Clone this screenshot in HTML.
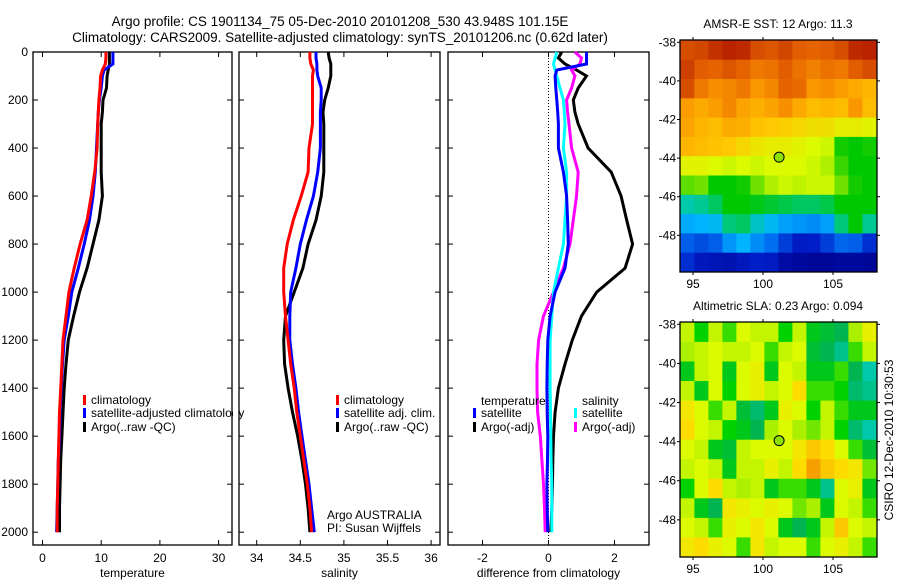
<!DOCTYPE html>
<html><head><meta charset="utf-8"><style>
body{margin:0;background:#fff}
svg{display:block;font-family:"Liberation Sans",sans-serif}
</style></head><body>
<svg id="fig" width="900" height="580" viewBox="0 0 900 580">
<rect width="900" height="580" fill="#fff"/>
<text x="340" y="26" font-size="13.5" text-anchor="middle">Argo profile: CS 1901134_75 05-Dec-2010 20101208_530 43.948S 101.15E</text>
<text x="340" y="42" font-size="13.5" text-anchor="middle">Climatology: CARS2009. Satellite-adjusted climatology: synTS_20101206.nc (0.62d later)</text>
<g id="g"></g>
</svg>
<script>
const depths=[0,25,50,75,100,150,200,250,300,400,500,600,700,800,900,1000,1100,1200,1300,1400,1500,1600,1700,1800,1900,2000];
const tempClim=[10.8,10.8,10.7,10.2,9.9,9.8,9.6,9.5,9.4,9.3,8.9,8.3,7.6,6.4,5.4,4.5,4.0,3.5,3.3,3.1,2.9,2.8,2.7,2.6,2.5,2.5];
const tempSat=[12.0,12.0,12.0,10.5,10.2,10.0,9.7,9.5,9.4,9.2,9.0,8.6,8.0,7.1,6.1,5.0,4.4,3.7,3.4,3.2,3.0,2.9,2.7,2.6,2.5,2.4];
const tempArgo=[11.4,11.4,11.4,11.2,11.0,10.9,10.3,10.2,10.0,10.0,10.0,10.2,9.6,8.6,7.6,6.3,5.3,4.4,4.0,3.7,3.5,3.3,3.1,3.0,2.9,2.9];
const salClim=[34.61,34.61,34.62,34.65,34.64,34.64,34.64,34.64,34.64,34.60,34.59,34.51,34.42,34.35,34.31,34.31,34.33,34.36,34.39,34.43,34.46,34.50,34.54,34.58,34.61,34.63];
const salSat=[34.68,34.68,34.69,34.69,34.70,34.74,34.74,34.73,34.73,34.73,34.70,34.65,34.57,34.50,34.45,34.39,34.38,34.38,34.41,34.45,34.48,34.52,34.56,34.60,34.63,34.66];
const salArgo=[34.82,34.83,34.85,34.85,34.85,34.82,34.78,34.76,34.77,34.77,34.77,34.74,34.68,34.59,34.53,34.43,34.33,34.31,34.32,34.36,34.41,34.47,34.52,34.56,34.59,34.61];
const dTempSat=[1.15,1.15,1.15,0.25,0.2,0.22,0.25,0.28,0.3,0.3,0.45,0.55,0.58,0.6,0.5,0.2,0.05,-0.02,-0.04,-0.05,-0.04,-0.02,-0.03,-0.05,-0.04,-0.02];
const dSalSat=[0.25,0.2,0.15,0.2,0.25,0.35,0.45,0.48,0.5,0.45,0.55,0.55,0.5,0.45,0.3,0.15,0.1,0.05,0.05,0.05,0.06,0.07,0.08,0.1,0.1,0.1];
const dTempArgo=[0.4,0.3,0.5,0.85,1.15,0.9,0.75,0.8,0.9,1.2,1.9,2.2,2.37,2.55,2.32,1.46,1.0,0.72,0.5,0.3,0.2,0.15,0.13,0.12,0.1,0.07];
const dSalArgo=[0.8,1.0,0.95,0.7,0.8,0.7,0.55,0.58,0.62,0.7,0.9,0.85,0.75,0.65,0.45,0.15,-0.15,-0.3,-0.35,-0.35,-0.33,-0.25,-0.2,-0.15,-0.12,-0.1];
const depthTicks=[0,200,400,600,800,1000,1200,1400,1600,1800,2000];
const tempTicks=[0,10,20,30];
const salTicks=[34,34.5,35,35.5,36];
const diffTicks=[-2,0,2];
const lonTicks=[95,100,105];
const latTicks=[-38,-40,-42,-44,-46,-48];
const sst=[
[13.8,13.9,14.2,14.4,14.3,13.8,13.7,13.9,13.6,13.5,13.6,13.8,14.3,14.4],
[14.0,13.6,13.5,13.7,13.5,13.2,13.3,13.6,13.3,13.1,13.3,13.2,13.6,13.8],
[13.8,13.2,12.9,13.0,13.2,12.8,13.0,13.5,13.4,12.8,12.9,12.7,12.5,12.3],
[12.7,12.5,12.7,13.0,12.6,12.4,12.6,12.9,12.5,12.2,12.3,12.2,12.8,12.2],
[12.6,12.3,12.2,12.5,12.4,12.1,12.0,11.9,11.8,11.7,11.7,11.5,11.5,11.4],
[12.3,12.2,12.1,12.0,11.8,11.6,11.5,11.5,11.4,11.3,11.2,10.1,10.0,10.1],
[11.4,11.4,11.3,11.2,11.3,11.2,11.3,11.3,11.3,11.2,11.0,10.3,10.0,10.0],
[10.5,10.6,10.0,10.0,10.1,10.6,11.0,11.2,11.1,11.2,11.2,10.6,10.1,10.0],
[9.3,9.4,9.6,10.0,10.0,9.9,9.8,9.7,9.6,9.6,9.7,10.0,10.0,10.0],
[8.6,8.7,8.8,9.5,9.6,9.1,8.8,8.5,8.4,8.3,8.5,9.5,10.0,9.4],
[7.8,7.6,7.8,8.4,8.7,8.3,8.0,7.4,6.9,7.0,7.4,7.9,7.8,7.2],
[7.2,6.8,6.7,6.6,6.8,7.0,6.9,6.4,6.3,6.2,6.2,6.3,6.3,6.2]];
const sla=[
[0.05,-0.15,0.05,-0.1,0.1,0.05,0.05,-0.15,0.05,-0.2,-0.25,-0.3,0,0.15],
[0,0.05,0.1,0.05,0.05,0.1,-0.1,0.05,0.1,-0.25,-0.3,-0.4,-0.1,0.05],
[-0.2,0.05,0.1,-0.2,0.1,0.15,-0.2,0.1,0.05,-0.2,-0.2,-0.1,-0.3,-0.45],
[0.05,-0.2,0.1,-0.15,0.1,0.15,0.05,0.1,0.25,-0.1,-0.1,-0.15,-0.35,-0.4],
[0.2,0.1,-0.1,0.05,-0.25,-0.35,-0.2,0.15,0.1,-0.15,0.05,-0.1,-0.2,-0.2],
[0.25,0.1,0.05,-0.15,-0.2,-0.3,0,0.1,0,-0.05,0.05,-0.15,-0.35,-0.45],
[0.1,0.05,-0.2,-0.25,0.05,0.1,0.1,0.1,0.2,0.3,0.25,0.1,-0.1,-0.25],
[0.05,0.1,0.05,-0.2,0.05,0.05,0.15,0.05,0.25,0.4,0.3,0.25,0.2,-0.05],
[-0.15,0.1,0.25,0.05,0,0.05,-0.2,-0.1,-0.1,-0.2,-0.4,0.1,0.15,-0.2],
[0.05,-0.2,-0.3,0.2,0.15,0.1,0.15,0.1,-0.05,0,-0.2,0.1,0.05,-0.1],
[0.1,0.05,-0.1,0.15,0.1,0.2,0.1,-0.2,-0.3,-0.2,0.05,0.3,0.1,0.05],
[0.2,0.25,0.15,0.1,-0.1,0.2,0.05,0.1,0.1,-0.1,0.1,0.15,0.05,-0.1]];
const floatLon=101.15, floatLat=-43.95;

const NS='http://www.w3.org/2000/svg';
const G=document.getElementById('g');
function mk(tag,attrs,parent){const e=document.createElementNS(NS,tag);for(const k in attrs)e.setAttribute(k,attrs[k]);(parent||G).appendChild(e);return e;}
function txt(s,x,y,attrs,parent){const e=mk('text',Object.assign({x:x,y:y,'font-size':12},attrs||{}),parent);e.textContent=s;return e;}
const yD=d=>52+d*0.2401;
const PB=545;

function panel(name,x0,x1,xs,xt,xtLabels,xlabel){
  const g=mk('g',{});
  
  
  const fr=mk('rect',{x:x0,y:52,width:x1-x0,height:PB-52,fill:'none',stroke:'#000','stroke-width':1.3},g);
  
  
  depthTicks.forEach(d=>{
    mk('line',{x1:x0,x2:x0+5,y1:yD(d),y2:yD(d),stroke:'#000'},g);
    mk('line',{x1:x1,x2:x1-5,y1:yD(d),y2:yD(d),stroke:'#000'},g);
  });
  xt.forEach((v,i)=>{
    const X=xs(v);
    mk('line',{x1:X,x2:X,y1:PB,y2:PB-5,stroke:'#000'},g);
    mk('line',{x1:X,x2:X,y1:52,y2:57,stroke:'#000'},g);
    const t=txt(xtLabels[i],X,562,{'text-anchor':'middle'},g);
    
    
  });
  const xl=txt(xlabel,(x0+x1)/2,577,{'text-anchor':'middle'},g);
  
  
  return g;
}
function line(vals,xs,color,name,parent,w){
  const pts=vals.map((v,i)=>xs(v).toFixed(1)+','+yD(depths[i]).toFixed(1)).join(' ');
  const p=mk('polyline',{points:pts,fill:'none',stroke:color,'stroke-width':w||3,'stroke-linejoin':'miter'},parent);
  
  
}
function legendItem(x,y,color,label,parent,name){
  if(color){mk('rect',{x:x,y:y-9,width:3,height:10,fill:color},parent);}
  const t=txt(label,x+8,y,{},parent);
  
  
}

// depth labels
depthTicks.forEach(d=>{const t=txt(String(d),28,yD(d)+4,{'text-anchor':'end'});
  
  });

// Panel 1 temperature
const xT=v=>42.5+v*5.87;
const p1=panel('temperature',33,232,xT,tempTicks,tempTicks.map(String),'temperature');
line(tempArgo,xT,'#000','temp-argo-line',p1);
line(tempSat,xT,'#00f','temp-satellite-line',p1);
line(tempClim,xT,'#f00','temp-climatology-line',p1);
legendItem(83,404,'#f00','climatology',p1,'legend-climatology');
legendItem(83,417,'#00f','satellite-adjusted climatology',p1,'legend-satellite-adjusted');
legendItem(83,431,'#000','Argo(..raw -QC)',p1,'legend-argo');
mk('rect',{x:233,y:395,width:6,height:30,fill:'#fff'});

// Panel 2 salinity
const xS=v=>256.7+(v-34)*87.2;
const p2=panel('salinity',239,440,xS,salTicks,['34','34.5','35','35.5','36'],'salinity');
line(salArgo,xS,'#000','sal-argo-line',p2);
line(salSat,xS,'#00f','sal-satellite-line',p2);
line(salClim,xS,'#f00','sal-climatology-line',p2);
legendItem(336,404,'#f00','climatology',p2,'legend-sal-climatology');
legendItem(336,417,'#00f','satellite adj. clim.',p2,'legend-sal-satellite');
legendItem(336,431,'#000','Argo(..raw -QC)',p2,'legend-sal-argo');
const a1=txt('Argo AUSTRALIA',327,519,{},p2);
const a2=txt('PI: Susan Wijffels',327,532,{},p2);

// Panel 3 difference
const xDf=v=>548.5+v*33;
const p3=panel('difference',448,649,xDf,diffTicks,['-2','0','2'],'difference from climatology');
const zl=mk('line',{x1:xDf(0),x2:xDf(0),y1:52,y2:PB,stroke:'#000','stroke-dasharray':'1,2'},p3);

line(dTempArgo,xDf,'#000','diff-temp-argo-line',p3);
line(dSalArgo,xDf,'#f0f','diff-sal-argo-line',p3);
line(dSalSat,xDf,'#0ff','diff-sal-satellite-line',p3);
line(dTempSat,xDf,'#00f','diff-temp-satellite-line',p3);
legendItem(473,405,null,'temperature',p3,'legend-temperature-header');
legendItem(473,417,'#00f','satellite',p3,'legend-diff-temp-satellite');
legendItem(473,431,'#000','Argo(-adj)',p3,'legend-diff-temp-argo');
legendItem(574,405,null,'salinity',p3,'legend-salinity-header');
legendItem(574,417,'#0ff','satellite',p3,'legend-diff-sal-satellite');
legendItem(574,431,'#f0f','Argo(-adj)',p3,'legend-diff-sal-argo');

// colormaps
function interp(stops,v){
  if(v<=stops[0][0])return stops[0][1];
  for(let i=1;i<stops.length;i++){if(v<=stops[i][0]){const a=stops[i-1],b=stops[i];const t=(v-a[0])/(b[0]-a[0]);
    return a[1].map((c,k)=>Math.round(c+(b[1][k]-c)*t));}}
  return stops[stops.length-1][1];
}
const sstStops=[[6,[0,0,140]],[7,[0,30,200]],[8,[0,110,240]],[8.7,[0,180,255]],[9.3,[0,200,170]],[10,[0,200,0]],[10.7,[130,230,0]],[11.3,[220,250,0]],[12,[255,200,0]],[12.8,[250,150,0]],[13.5,[230,100,0]],[14.4,[185,35,0]]];
const slaStops=[[-0.45,[0,200,170]],[-0.3,[0,180,80]],[-0.15,[0,210,0]],[0,[170,240,0]],[0.1,[220,250,0]],[0.25,[255,220,0]],[0.4,[245,160,0]]];

function mapPanel(name,grid,stops,top,bot,title){
  const x0=680,x1=877;
  const xL=lon=>693+(lon-95)*14.0;
  const yL=lat=>top+2.3+(-38-lat)*((bot-top-2.3)/11.9);
  const g=mk('g',{});
  
  
  const cid='clip-'+name;
  const cp=mk('clipPath',{id:cid},g);mk('rect',{x:x0,y:top,width:x1-x0,height:bot-top},cp);
  const cg=mk('g',{'clip-path':'url(#'+cid+')'},g);
  grid.forEach((row,i)=>row.forEach((v,j)=>{
    const c=interp(stops,v);
    const lonC=94.6+j, latC=-38.4-i;
    const r=mk('rect',{x:(xL(lonC-0.5)).toFixed(1),y:(yL(latC+0.5)).toFixed(1),width:14.6,height:((bot-top-2.3)/11.9+0.6).toFixed(1),fill:'rgb('+c.join(',')+')'},cg);
    
    
  }));
  const fr=mk('rect',{x:x0,y:top,width:x1-x0,height:bot-top,fill:'none',stroke:'#000','stroke-width':1.3},g);
  
  latTicks.forEach(l=>{const Y=yL(l);
    mk('line',{x1:x0,x2:x0-3,y1:Y,y2:Y,stroke:'#000'},g);
    mk('line',{x1:x1,x2:x1+3,y1:Y,y2:Y,stroke:'#000'},g);
    const t=txt(String(l),676,Y+4,{'text-anchor':'end'},g);
    });
  lonTicks.forEach(l=>{const X=xL(l);
    mk('line',{x1:X,x2:X,y1:bot,y2:bot+3,stroke:'#000'},g);
    mk('line',{x1:X,x2:X,y1:top,y2:top-3,stroke:'#000'},g);
    const t=txt(String(l),X,bot+16,{'text-anchor':'middle'},g);
    });
  const tt=txt(title,778,top-12,{'text-anchor':'middle'},g);
  
  const m=mk('circle',{cx:xL(floatLon),cy:yL(floatLat),r:5,fill:'rgb(140,225,0)',stroke:'#000','stroke-width':1},g);
  
  
}
mapPanel('sst-map',sst,sstStops,40,272,'AMSR-E SST: 12 Argo: 11.3');
mapPanel('sla-map',sla,slaStops,322,557,'Altimetric SLA: 0.23 Argo: 0.094');
const cs=txt('CSIRO 12-Dec-2010 10:30:53',0,0,{'text-anchor':'middle',transform:'translate(893,440) rotate(-90)'});


</script>
</body></html>
